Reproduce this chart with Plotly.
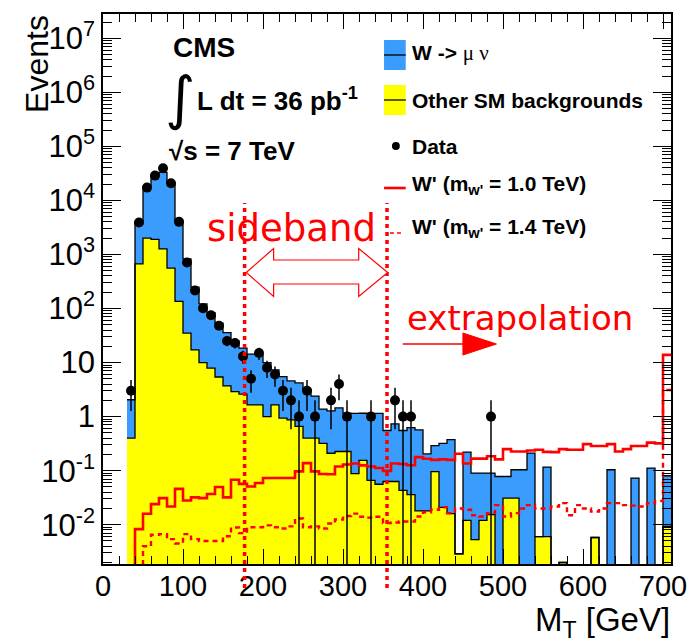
import numpy as np
import plotly.graph_objects as go

# ---------------- data ----------------
bin_width = 10                 # GeV
mc_first_edge = 30             # first bin of MC / data histograms
sig_first_edge = 0             # first bin of the W' histograms

# Other SM backgrounds (yellow), bins 30-40 ... 700-710 (last = overflow)
other_sm = [0.40, 670, 2000, 1900, 1270, 557, 135, 35, 17.2, 10,
            7.9, 5.4, 3.7, 2.9, 2.6, 1.65, 1.65, 1.0, 1.65, 0.94,
            0.87, 0.66, 0.40, 0.40, 0.32, 0.21, 0.226, 0.226, 0.088, 0.155,
            0.066, 0.056, 0.063, 0.063, 0.043, 0.036, 0.018, 0.018, 0.096, 0.021,
            0.016, 0.0029, 0.012, 0.0053, 0.012, 0.0153, 0, 0.031, 0.031, 0,
            0, 0.006, 0.006, 0, 0.002, 0, 0, 0, 0.0058, 0,
            0, 0, 0, 0, 0, 0, 0, 0.0093]

# W -> mu nu (blue), stacked on top of the other backgrounds
w_munu = [1.65, 3280, 15000, 27700, 31700, 20240, 4035, 793, 230.8, 112,
          76.1, 48.2, 32.2, 22.3, 15.9, 12.65, 12.35, 9.0, 5.65, 4.56,
          3.73, 3.54, 2.8, 2.0, 1.05, 1.07, 1.22, 0.93, 1.06, 1.0,
          1.08, 1.09, 0.49, 0.67, 0.51, 0.59, 0.55, 0.187, 0.194, 0.30,
          0.36, 0, 0.208, 0.085, 0.078, 0.075, 0.078, 0.047, 0.073, 0.104,
          0.211, 0, 0.11, 0, 0, 0, 0, 0, 0, 0,
          0.104, 0, 0, 0.073, 0, 0.111, 0, 0.071]

# Data (events per bin)
data_counts = [3, 3890, 17260, 28770, 39400, 20800, 4010, 708, 215, 101,
               75, 48, 25, 23, 13, 5, 15, 8, 6, 3,
               2, 1, 3, 1, 0, 2, 4, 1, 0, 0,
               1, 0, 0, 2, 1, 1, 0, 0, 0, 0,
               0, 0, 0, 0, 0, 1, 0, 0, 0, 0,
               0, 0, 0, 0, 0, 0, 0, 0, 0, 0,
               0, 0, 0, 0, 0, 0, 0, 0]

# W' signal shapes, bins 0-10 ... 700-710
wprime_1p0 = [0, 0, 0, 0, 0.0083, 0.0159, 0.024, 0.031, 0.0217, 0.046,
              0.028, 0.032, 0.031, 0.037, 0.050, 0.032, 0.068, 0.057, 0.051, 0.059,
              0.073, 0.073, 0.073, 0.073, 0.097, 0.138, 0.097, 0.087, 0.086, 0.119,
              0.130, 0.136, 0.125, 0.119, 0.112, 0.099, 0.136, 0.133, 0.126, 0.178,
              0.166, 0.158, 0.162, 0.158, 0.205, 0.136, 0.167, 0.167, 0.185, 0.162,
              0.25, 0.226, 0.226, 0.236, 0.243, 0.223, 0.22, 0.25, 0.243, 0.243,
              0.31, 0.285, 0.285, 0.31, 0.226, 0.25, 0.285, 0.285, 0.33, 0.32,
              13.9]
wprime_1p4 = [0, 0, 0, 0, 0, 0.004, 0.0065, 0.0067, 0.0054, 0.0045,
              0.0067, 0.0054, 0.005, 0.005, 0.005, 0.0061, 0.0089, 0.007, 0.009, 0.009,
              0.0097, 0.009, 0.0085, 0.0093, 0.013, 0.009, 0.0093, 0.0085, 0.0105, 0.0125,
              0.0145, 0.016, 0.014, 0.0135, 0.014, 0.0107, 0.011, 0.0115, 0.0115, 0.0142,
              0.017, 0.0189, 0.021, 0.0164, 0.020, 0.0189, 0.015, 0.0142, 0.0164, 0.023,
              0.0142, 0.0164, 0.020, 0.023, 0.020, 0.020, 0.0217, 0.0251, 0.015, 0.023,
              0.020, 0.0175, 0.020, 0.0251, 0.0251, 0.023, 0.0225, 0.0217, 0.0251, 0.0275,
              3.1]

sideband_edges = [177, 355]     # GeV (dashed lines)

x_tick_vals = [0, 100, 200, 300, 400, 500, 600, 700]
x_tick_text = ["0", "100", "200", "300", "400", "500", "600", "700"]
y_tick_vals = [1e-2, 1e-1, 1, 10, 1e2, 1e3, 1e4, 1e5, 1e6, 1e7]
y_tick_text = ["10<sup>-2</sup>", "10<sup>-1</sup>", "1", "10", "10<sup>2</sup>",
               "10<sup>3</sup>", "10<sup>4</sup>", "10<sup>5</sup>", "10<sup>6</sup>",
               "10<sup>7</sup>"]

# ---------------- styling ----------------
BLUE = "#3a9cfc"
YELLOW = "#ffff00"
RED = "#ff0000"
FONT = "Liberation Sans"
FLOOR = 1e-9   # empty bins are drawn below the visible range (log axis)

W, H = 699, 644
ML, MR, MT, MB = 103, 20, 14, 80
PW, PH = W - ML - MR, H - MT - MB


def pxx(x):
    return (x - ML) / PW


def pxy(y):
    return (H - MB - y) / PH


def step(first_edge, values):
    v = np.asarray(values, dtype=float)
    edges = first_edge + bin_width * np.arange(len(v) + 1)
    y = np.where(v > 0, v, FLOOR)
    return edges, np.append(y, y[-1])


def bars(first_edge, values):
    v = np.asarray(values, dtype=float)
    centers = first_edge + bin_width * (np.arange(len(v)) + 0.5)
    return centers, np.where(v > 0, v, FLOOR)


other_arr = np.asarray(other_sm, float)
total_arr = other_arr + np.asarray(w_munu, float)

fig = go.Figure()

# filled histograms (stack drawn as total first, then the lower component on top)
bx, by = bars(mc_first_edge, total_arr)
fig.add_trace(go.Bar(x=bx, y=by, width=bin_width, name="W -> mu nu",
                     marker=dict(color=BLUE, line=dict(width=0)), showlegend=False))
bx, by = bars(mc_first_edge, other_arr)
fig.add_trace(go.Bar(x=bx, y=by, width=bin_width, name="Other SM backgrounds",
                     marker=dict(color=YELLOW, line=dict(width=0)), showlegend=False))

# histogram outlines
ex, ey = step(mc_first_edge, total_arr)
fig.add_trace(go.Scatter(x=ex, y=ey, mode="lines", hoverinfo="skip",
                         line=dict(shape="hv", color="black", width=1.3), showlegend=False))
ex, ey = step(mc_first_edge, other_arr)
fig.add_trace(go.Scatter(x=ex, y=ey, mode="lines", hoverinfo="skip",
                         line=dict(shape="hv", color="black", width=1.3), showlegend=False))

ex, ey = step(sig_first_edge, wprime_1p0)
fig.add_trace(go.Scatter(x=ex, y=ey, mode="lines", name="W' 1.0 TeV",
                         line=dict(shape="hv", color=RED, width=2.6),
                         showlegend=False))
ex, ey = step(sig_first_edge, wprime_1p4)
fig.add_trace(go.Scatter(x=ex, y=ey, mode="lines", name="W' 1.4 TeV",
                         line=dict(shape="hv", color=RED, width=2.4, dash="5px,4px"),
                         showlegend=False))

d = np.asarray(data_counts, float)
centers = mc_first_edge + bin_width * (np.arange(len(d)) + 0.5)
m = d > 0
err = np.sqrt(d[m])
err_lo = np.minimum(err, d[m] * 0.9999)
fig.add_trace(go.Scatter(x=centers[m], y=d[m], mode="markers", name="Data",
                         marker=dict(symbol="circle", size=10, color="black"),
                         error_y=dict(type="data", symmetric=False, array=err,
                                      arrayminus=err_lo, color="black",
                                      thickness=1.5, width=0),
                         showlegend=False))

shapes = []
annotations = []

# sideband dashed lines
for xe in sideband_edges:
    shapes.append(dict(type="line", xref="x", yref="paper", x0=xe, x1=xe,
                       y0=pxy(588), y1=pxy(203),
                       line=dict(color=RED, width=3.5, dash="4px,4px"), layer="above"))

# hollow double arrow (sideband)
yc, yh_t, yh_b, ys_t, ys_b = 272.5, 248.5, 296.5, 260, 284
xl, xlb, xrb, xr = 248.3, 276, 362.3, 391.7
pts = [(xl, yc), (xlb, yh_t), (xlb, ys_t), (xrb, ys_t), (xrb, yh_t), (xr, yc),
       (xrb, yh_b), (xrb, ys_b), (xlb, ys_b), (xlb, yh_b)]
path = "M " + " L ".join(f"{pxx(a):.5f},{pxy(b):.5f}" for a, b in pts) + " Z"
shapes.append(dict(type="path", xref="paper", yref="paper", path=path,
                   fillcolor="white", line=dict(color=RED, width=1.2), layer="above"))

# extrapolation arrow
shapes.append(dict(type="line", xref="paper", yref="paper", x0=pxx(407), x1=pxx(470),
                   y0=pxy(344), y1=pxy(344), line=dict(color=RED, width=1.5)))
tri = [(468, 333), (502, 344), (468, 355)]
path = "M " + " L ".join(f"{pxx(a):.5f},{pxy(b):.5f}" for a, b in tri) + " Z"
shapes.append(dict(type="path", xref="paper", yref="paper", path=path,
                   fillcolor=RED, line=dict(color=RED, width=1)))

# legend
shapes.append(dict(type="rect", xref="paper", yref="paper", x0=pxx(388), x1=pxx(410),
                   y0=pxy(70), y1=pxy(40), fillcolor=BLUE, line=dict(width=0)))
shapes.append(dict(type="line", xref="paper", yref="paper", x0=pxx(388), x1=pxx(410),
                   y0=pxy(55), y1=pxy(55), line=dict(color="black", width=1.3)))
shapes.append(dict(type="rect", xref="paper", yref="paper", x0=pxx(388), x1=pxx(410),
                   y0=pxy(115), y1=pxy(85), fillcolor=YELLOW, line=dict(width=0)))
shapes.append(dict(type="line", xref="paper", yref="paper", x0=pxx(388), x1=pxx(410),
                   y0=pxy(100), y1=pxy(100), line=dict(color="black", width=1.3)))
shapes.append(dict(type="circle", xref="paper", yref="paper", x0=pxx(396), x1=pxx(404),
                   y0=pxy(150), y1=pxy(142), fillcolor="black", line=dict(width=0)))
shapes.append(dict(type="line", xref="paper", yref="paper", x0=pxx(388), x1=pxx(410),
                   y0=pxy(188), y1=pxy(188), line=dict(color=RED, width=2.6)))
shapes.append(dict(type="line", xref="paper", yref="paper", x0=pxx(394), x1=pxx(406),
                   y0=pxy(233), y1=pxy(233), line=dict(color=RED, width=1.6, dash="4px,3px")))

leg_font = dict(family=FONT, size=21, color="black", weight="bold")
leg_items = [
    ("W -> <span style='font-family:Liberation Serif;font-weight:normal'>μ ν</span>", 53),
    ("Other SM backgrounds", 100),
    ("Data", 146),
    ("W' (m<sub>w'</sub> = 1.0 TeV)", 185),
    ("W' (m<sub>w'</sub> = 1.4 TeV)", 228),
]
for txt, yy in leg_items:
    annotations.append(dict(text=txt, xref="paper", yref="paper", x=pxx(414), y=pxy(yy),
                            xanchor="left", yanchor="middle", showarrow=False, font=leg_font))

# CMS labels
annotations.append(dict(text="CMS", xref="paper", yref="paper", x=pxx(172), y=pxy(48),
                        xanchor="left", yanchor="middle", showarrow=False,
                        font=dict(family=FONT, size=28, color="black", weight="bold")))
annotations.append(dict(text="∫", xref="paper", yref="paper", x=pxx(181), y=pxy(98),
                        xanchor="center", yanchor="middle", showarrow=False,
                        font=dict(family="DejaVu Sans", size=58, color="black")))
annotations.append(dict(text="L dt = 36 pb<sup>-1</sup>", xref="paper", yref="paper",
                        x=pxx(196), y=pxy(99), xanchor="left", yanchor="middle",
                        showarrow=False,
                        font=dict(family=FONT, size=26, color="black", weight="bold")))
annotations.append(dict(text="√s = 7 TeV", xref="paper", yref="paper", x=pxx(168),
                        y=pxy(151), xanchor="left", yanchor="middle", showarrow=False,
                        font=dict(family=FONT, size=26, color="black", weight="bold")))

# region labels
annotations.append(dict(text="sideband", xref="paper", yref="paper", x=pxx(294),
                        y=pxy(229), xanchor="center", yanchor="middle", showarrow=False,
                        font=dict(family="DejaVu Sans", size=37, color=RED)))
annotations.append(dict(text="extrapolation", xref="paper", yref="paper", x=pxx(526),
                        y=pxy(318), xanchor="center", yanchor="middle", showarrow=False,
                        font=dict(family="DejaVu Sans", size=34, color=RED)))

# axis titles
annotations.append(dict(text="Events", xref="paper", yref="paper", x=pxx(36), y=pxy(13),
                        xanchor="center", yanchor="top", textangle=-90, showarrow=False,
                        font=dict(family=FONT, size=32, color="black")))
annotations.append(dict(text="M<sub>T</sub> [GeV]", xref="paper", yref="paper",
                        x=pxx(680), y=pxy(622), xanchor="right", yanchor="middle",
                        showarrow=False, font=dict(family=FONT, size=33, color="black")))

fig.update_layout(
    width=W, height=H,
    margin=dict(l=ML, r=MR, t=MT, b=MB, pad=0),
    paper_bgcolor="white", plot_bgcolor="white",
    barmode="overlay", bargap=0,
    shapes=shapes, annotations=annotations,
    showlegend=False,
    xaxis=dict(range=[0, 710], tickmode="array", tickvals=x_tick_vals, ticktext=x_tick_text,
               ticks="inside", ticklen=15, tickwidth=1.3, tickcolor="black",
               ticklabelstandoff=-5,
               minor=dict(ticks="inside", ticklen=8, tickwidth=1.3, tickcolor="black",
                          dtick=20, tick0=0, showgrid=False),
               showline=True, linecolor="black", linewidth=1.5, mirror="allticks",
               showgrid=False, zeroline=False,
               tickfont=dict(family=FONT, size=29, color="black")),
    yaxis=dict(type="log", range=[-2.727, 7.449], tickmode="array", tickvals=y_tick_vals,
               ticktext=y_tick_text, ticks="inside", ticklen=18, tickwidth=1.3,
               tickcolor="black",
               minor=dict(ticks="inside", ticklen=9, tickwidth=1.3, tickcolor="black",
                          dtick="D1", showgrid=False),
               showline=True, linecolor="black", linewidth=1.5, mirror="allticks",
               showgrid=False, zeroline=False,
               tickfont=dict(family=FONT, size=31, color="black")),
)

fig.write_html("out.html")
